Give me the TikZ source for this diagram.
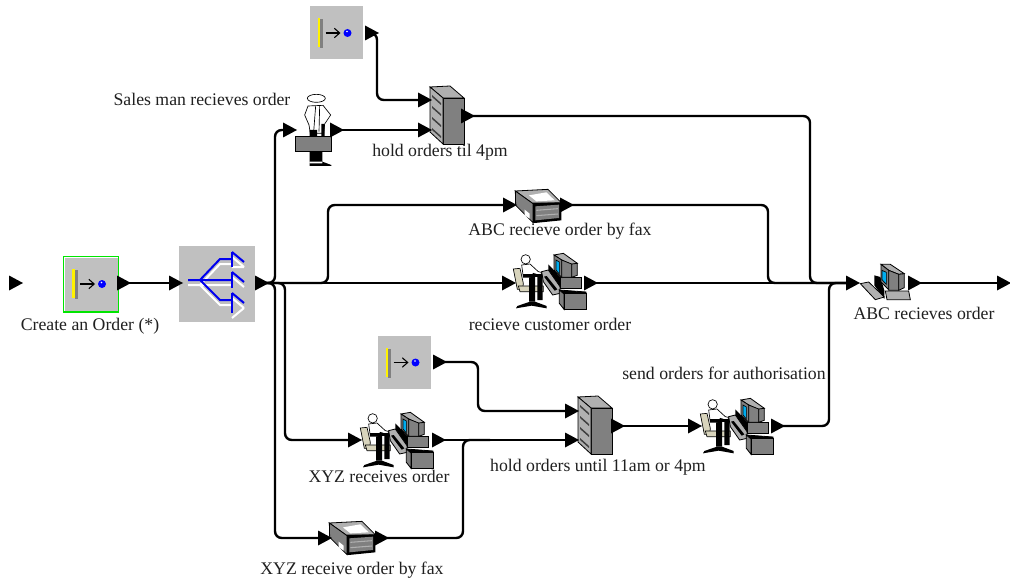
\documentclass[tikz,border=0pt]{standalone}
\usetikzlibrary{arrows.meta}
\usepackage{fontspec}
\setmainfont{Liberation Serif}
\definecolor{boxgrey}{HTML}{C0C0C0}
\definecolor{midgrey}{HTML}{808080}
\definecolor{lightgrey}{HTML}{B0B0B0}
\definecolor{beige}{HTML}{D8D4BC}
\definecolor{splitblue}{HTML}{0000F0}
\definecolor{txt}{HTML}{202020}
\tikzset{
  port/.style={inner sep=0pt,minimum width=10.5pt,minimum height=11.25pt,
    path picture={\fill[black] (path picture bounding box.north west)--(path picture bounding box.east)--(path picture bounding box.south west)--cycle;}},
  wire/.style={line width=1.8pt,rounded corners=5pt,black},
  lbl/.style={font=\fontsize{13.3pt}{15pt}\selectfont,text=txt,inner sep=0pt},
  dev/.style={draw=black,line width=.6pt,fill=midgrey},
  lite/.style={draw=black,line width=.6pt,fill=lightgrey},
  pale/.style={draw=black,line width=.5pt,fill=beige},
  wht/.style={draw=black,line width=.5pt,fill=white},
  pics/sourceicon/.style={code={
    \fill[boxgrey] (-26.5,-26.5) rectangle (26.5,26.5);
    \fill[gray] (-16.5,-14) rectangle (-13.5,15);
    \fill[yellow] (-19,-15) rectangle (-16.5,14);
    \draw[black,line width=.8pt,-{Straight Barb[length=4pt,width=7pt]}] (-11,0) -- (4,0);
    \fill[blue] (11,0) circle (4);
    \fill[white] (10.5,-1.5) circle (.9);
  }},
  pics/splitter/.style={code={
    \fill[boxgrey] (-38,-38) rectangle (38,38);
    \begin{scope}[white,line width=1.5pt,shift={(0,5)}]
      \draw (-29,-4) -- (15,-4) (-17,-4) -- (3,-25) -- (15,-25) (-17,-4) -- (3,16) -- (15,16);
      \draw (15,-32) -- (27,-22) (15,-12) -- (27,-2) (15,9) -- (27,19);
      \draw (15,-22)--(27,-22) (27,19)--(15,29);
    \end{scope}
    \begin{scope}[splitblue,line width=1.5pt]
      \draw (-29,-4) -- (15,-4) (-17,-4) -- (3,-25) -- (15,-25) (-17,-4) -- (3,16) -- (15,16);
      \draw (15,-32) -- (15,-17) (15,-12) -- (15,4) (15,9) -- (15,29);
      \draw (15,-32) -- (27,-22) (15,-12) -- (27,-2) (15,9) -- (27,19);
    \end{scope}
  }},
  pics/storage/.style={code={
    \draw[lite] (-17,-28) -- (3,-29) -- (17,-17) -- (-4,-17) -- cycle;
    \draw[dev] (-4,-17) rectangle (17,29);
    \draw[lite] (-17,-28) -- (-4,-17) -- (-4,29) -- (-17,17) -- cycle;
    \foreach \y in {-20,-9,2,13}{
      \fill[black!75] (-15,\y) -- (-6,\y+8) -- (-6,\y+10) -- (-15,\y+2) -- cycle;
    }
  }},
  pics/faxicon/.style={code={
    \begin{scope}[x=.25pt,y=-.25pt,shift={(-175,-107)}]
    \draw[lite] (107,62) -- (205,57) -- (245,97) -- (160,100) -- cycle;
    \fill[white] (148,75) -- (200,66) -- (225,90) -- (170,93) -- cycle;
    \draw[dev] (107,62) -- (160,100) -- (160,157) -- (108,105) -- cycle;
    \fill[white] (135,118) -- (150,130) -- (150,145) -- (135,135) -- cycle;
    \fill[black] (160,97) -- (245,97) -- (245,150) -- (165,158) -- (160,157) -- cycle;
    \fill[midgrey] (167,108) -- (238,103) -- (238,143) -- (167,150) -- cycle;
    \draw[lightgrey,line width=.8pt] (170,120) -- (235,115) (170,136) -- (235,131);
    \end{scope}
  }},
  pics/desk/.style={code={
    \begin{scope}[x=.25pt,y=-.25pt,shift={(-210,-333)}]
    \draw[pale] (100,297) -- (120,295) -- (130,340) -- (128,358) -- (112,358) -- cycle;
    \draw[pale] (115,348) -- (190,348) -- (190,365) -- (120,365) -- cycle;
    \fill[black] (147,320) rectangle (165,395) (172,320) rectangle (188,390);
    \fill[black] (108,415) -- (112,408) -- (150,395) -- (165,395) -- (200,408) -- (200,415) -- (155,407) -- cycle;
    \draw[wht] (125,285) -- (150,282) -- (175,305) -- (187,308) -- (180,316) -- (160,310) -- (150,322) -- (130,322) -- cycle;
    \fill[black] (130,313) rectangle (190,322);
    \draw[wht] (137,268) circle (14);
    % desk and keyboard
    \fill[black] (205,283) -- (240,320) -- (240,365) -- (205,340) -- cycle;
    \draw[lite] (185,305) -- (205,300) -- (240,350) -- (240,370) -- (218,375) -- (190,335) -- cycle;
    \fill[black] (192,320) -- (200,318) -- (232,358) -- (224,362) -- cycle;
    % tower
    \draw[dev,fill=black] (238,360) -- (318,366) -- (318,372) -- (250,372) -- cycle;
    \draw[dev] (238,360) -- (252,372) -- (252,418) -- (238,400) -- cycle;
    \draw[dev] (252,370) rectangle (318,417);
    % middle box
    \draw[dev] (240,322) rectangle (303,355);
    % monitor
    \draw[lite] (222,255) -- (250,250) -- (292,280) -- (275,284) -- (245,270) -- cycle;
    \draw[dev] (222,255) -- (245,270) -- (245,322) -- (222,300) -- cycle;
    \draw[draw=black,line width=.5pt,fill=cyan] (228,270) -- (238,276) -- (238,312) -- (228,300) -- cycle;
    \draw[dev] (245,270) -- (275,282) -- (275,322) -- (245,322) -- cycle;
    \draw[dev] (275,282) -- (292,280) -- (292,316) -- (275,322) -- cycle;
    \end{scope}
  }},
  pics/pcicon/.style={code={
    \begin{scope}[x=.25pt,y=-.25pt,shift={(-380,-125)}]
    \fill[black] (342,105) -- (360,110) -- (372,150) -- (372,176) -- (342,135) -- cycle;
    \draw[lite] (300,130) -- (325,125) -- (372,170) -- (345,178) -- cycle;
    \draw[lite] (375,152) -- (445,152) -- (450,178) -- (380,178) -- cycle;
    \draw[lite] (362,72) -- (390,72) -- (432,100) -- (415,102) -- (385,90) -- cycle;
    \draw[dev] (362,72) -- (385,90) -- (385,148) -- (362,125) -- cycle;
    \draw[draw=black,line width=.5pt,fill=cyan] (365,90) -- (378,96) -- (378,132) -- (365,118) -- cycle;
    \draw[dev] (385,90) -- (415,102) -- (415,150) -- (385,150) -- cycle;
    \draw[dev] (415,102) -- (432,100) -- (432,142) -- (415,150) -- cycle;
    \end{scope}
  }},
  pics/salesman/.style={code={
    \begin{scope}[x=.25pt,y=-.25pt,shift={(-160,-390)}]
    \draw[wht] (170,295) ellipse (27 and 12);
    \draw[wht] (145,318) -- (190,316) -- (213,345) -- (195,372) -- (192,400) -- (152,400) -- (148,375) -- (135,345) -- cycle;
    \draw[black,line width=.5pt] (168,318) -- (162,395) (180,318) -- (178,395);
    \fill[black] (150,390) rectangle (172,412) (185,372) rectangle (195,410);
    \draw[draw=black,line width=.6pt,fill=midgrey] (107,410) rectangle (215,455);
    \fill[black] (150,455) rectangle (188,490) (150,485) -- (188,485) -- (215,495) -- (215,498) -- (150,498) -- cycle;
    \end{scope}
  }},
}
\begin{document}
\begin{tikzpicture}[x=.75pt,y=-.75pt]
\useasboundingbox (0,0) rectangle (1010,581);
\fill[white] (0,0) rectangle (1010,581);

% icons
\pic at (91,284) {sourceicon};
\draw[green!90!black,line width=.8pt] (63.5,256.5) rectangle (118.5,312);
\pic at (217,284) {splitter};
\pic at (336.5,33) {sourceicon};
\pic at (404.5,362.5) {sourceicon};
\pic at (313,130) {salesman};
\pic at (447,115) {storage};
\pic at (595,425) {storage};
\pic at (538,206) {faxicon};
\pic at (352,538) {faxicon};
\pic at (550,281) {desk};
\pic at (397,440) {desk};
\pic at (737,426) {desk};
\pic at (887,282) {pcicon};

% ports
\node[port] (pfree) at (16,283) {};
\node[port] (srcout) at (124,283) {};
\node[port] (splin) at (176,283) {};
\node[port] (splout) at (262,283) {};
\node[port] (topout) at (372,33) {};
\node[port] (salesin) at (290,130) {};
\node[port] (salesout) at (337,130) {};
\node[port] (stain) at (425,100) {};
\node[port] (stbin) at (425,130) {};
\node[port] (stout) at (468,116) {};
\node[port] (faxin) at (510,205) {};
\node[port] (faxout) at (567,205) {};
\node[port] (custin) at (509,283) {};
\node[port] (custout) at (591,283) {};
\node[port] (pcin) at (853,283) {};
\node[port] (pcout) at (915,283) {};
\node[port] (endp) at (1004,283) {};
\node[port] (lowout) at (440,362) {};
\node[port] (holdin) at (572,411) {};
\node[port] (holdbin) at (572,440) {};
\node[port] (holdout) at (618,426) {};
\node[port] (sendin) at (695,426) {};
\node[port] (sendout) at (778,426) {};
\node[port] (xyzin) at (355,440) {};
\node[port] (xyzout) at (439,440) {};
\node[port] (xfaxin) at (325,538) {};
\node[port] (xfaxout) at (382,538) {};

% bend points
\coordinate (a1) at (275,283);
\coordinate (a2) at (285,283);
\coordinate (a3) at (328,283);
\coordinate (b1) at (377,100);
\coordinate (c1) at (810,116);
\coordinate (c2) at (810,283);
\coordinate (d1) at (768,205);
\coordinate (d2) at (768,283);
\coordinate (e1) at (829,426);
\coordinate (e2) at (829,283);
\coordinate (f1) at (478,362);
\coordinate (f2) at (478,411);
\coordinate (g1) at (463,538);
\coordinate (g2) at (463,440);
\coordinate (g3) at (490,440);

% connectors
\draw[wire] (srcout.center) -- (splin.center);
\draw[wire] (splout.center) -- (custin.center);
\draw[wire] (splout.center) -- (a1) -- (a1|-salesin.center) -- (salesin.center);
\draw[wire] (splout.center) -- (a1) -- (a1|-xfaxin.center) -- (xfaxin.center);
\draw[wire] (splout.center) -- (a2) -- (a2|-xyzin.center) -- (xyzin.center);
\draw[wire] (splout.center) -- (a3) -- (a3|-faxin.center) -- (faxin.center);
\draw[wire] (topout.center) -- (b1|-topout.center) -- (b1) -- (stain.center);
\draw[wire] (salesout.center) -- (stbin.center);
\draw[wire] (stout.center) -- (c1) -- (c2) -- (pcin.center);
\draw[wire] (faxout.center) -- (d1) -- (d2) -- (pcin.center);
\draw[wire] (custout.center) -- (pcin.center);
\draw[wire] (sendout.center) -- (e1) -- (e2) -- (pcin.center);
\draw[wire] (pcout.center) -- (endp.center);
\draw[wire] (lowout.center) -- (f1) -- (f2) -- (holdin.center);
\draw[wire] (xyzout.center) -- (holdbin.center);
\draw[wire] (xfaxout.center) -- (g1) -- (g2) -- (g3);
\draw[wire] (holdout.center) -- (sendin.center);

% labels
\node[lbl] (l1) at (90,326) {Create an Order (*)};
\node[lbl] (l2) at (202,99) {Sales man recieves order};
\node[lbl] (l3) at (440,152) {hold orders til 4pm};
\node[lbl] (l4) at (560,231) {ABC recieve order by fax};
\node[lbl] (l5) at (550,324) {recieve customer order};
\node[lbl] (l6) at (924,313) {ABC recieves order};
\node[lbl] (l7) at (724,373) {send orders for authorisation};
\node[lbl] (l8) at (598,467) {hold orders until 11am or 4pm};
\node[lbl] (l9) at (379,476) {XYZ receives order};
\node[lbl] (l10) at (352,570) {XYZ receive order by fax};
\end{tikzpicture}
\end{document}
